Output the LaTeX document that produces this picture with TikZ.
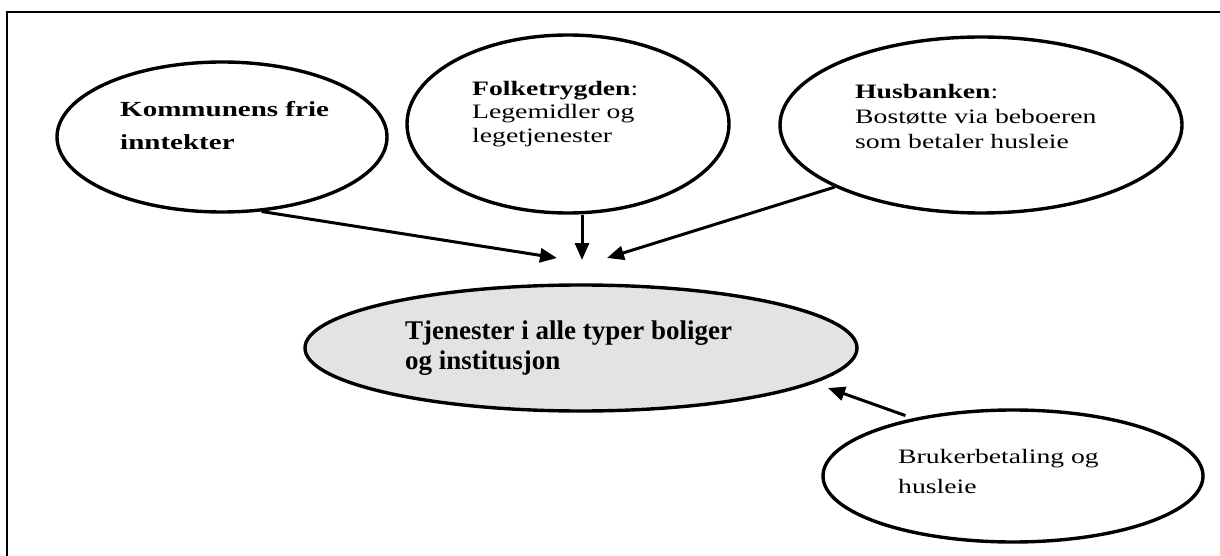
\documentclass[tikz,border=0pt]{standalone}
\usepackage{fontspec}
\setmainfont{Liberation Serif}[FakeStretch=1.35]
\newfontfamily\plainserif{Liberation Serif}
\usetikzlibrary{
  shapes,       % Shape "ellipse"
  arrows.meta,
  positioning,
}
\def\mylinewidth{3.4pt}
\def\myfontsize{20.5}
\tikzset{
  >={Triangle[length=17pt,width=14pt]},
  my source/.style={
    draw,
    ellipse,
    line width=\mylinewidth,
    inner sep=0pt
  },
  my goal/.style={
    my source,
    fill=black!11
  },
  my text/.style={
    align=left,
    inner sep=0pt,
    anchor=north west
  },
  my arrow/.style={
    line width=3pt
  }
}

\begin{document}
\begin{tikzpicture}[x=1pt,y=-1pt]
\useasboundingbox (0,0) rectangle (1220,556);
% frame (only left and top edge visible)
\draw[line width=2.6pt] (7,556) -- (7,12) -- (1220,12);

\node[my source,minimum width=330pt,minimum height=150pt] (kom)  at (222,137)  {};
\node[my source,minimum width=322pt,minimum height=178pt] (folk) at (568,124)  {};
\node[my source,minimum width=402pt,minimum height=176pt] (hus)  at (981,125)  {};
\node[my goal,  minimum width=552pt,minimum height=126pt] (tjen) at (581,348)  {};
\node[my source,minimum width=380pt,minimum height=132pt] (bruk) at (1013,476) {};

\node[my text,font=\fontsize{21.5}{33}\selectfont\bfseries] (komtext) at (120,101)
  {Kommunens frie\\inntekter};
\node[my text,font=\fontsize{\myfontsize}{23.5}\selectfont] (folktext) at (472,81)
  {\textbf{Folketrygden}:\\Legemidler og\\legetjenester};
\node[my text,font=\fontsize{\myfontsize}{25}\selectfont] (hustext) at (855,84)
  {\textbf{Husbanken}:\\Bostøtte via beboeren\\som betaler husleie};
\node[my text,font=\fontsize{27}{30}\selectfont\plainserif\bfseries] (tjentext) at (405,321)
  {Tjenester i alle typer boliger\\og institusjon};
\node[my text,font=\fontsize{\myfontsize}{30}\selectfont] (bruktext) at (898,449)
  {Brukerbetaling og\\husleie};

\coordinate (tipkom)  at (557,258);
\coordinate (tipfolk) at (582,260);
\coordinate (tiphus)  at (607,258);
\coordinate (tipbruk) at (828,388);
\path[->,my arrow] (kom.-62)              edge (tipkom)
                   (folk.south -| tipfolk) edge (tipfolk)
                   (hus.-157)             edge (tiphus)
                   (bruk.150)             edge[shorten <=8pt] (tipbruk);
\end{tikzpicture}
\end{document}
